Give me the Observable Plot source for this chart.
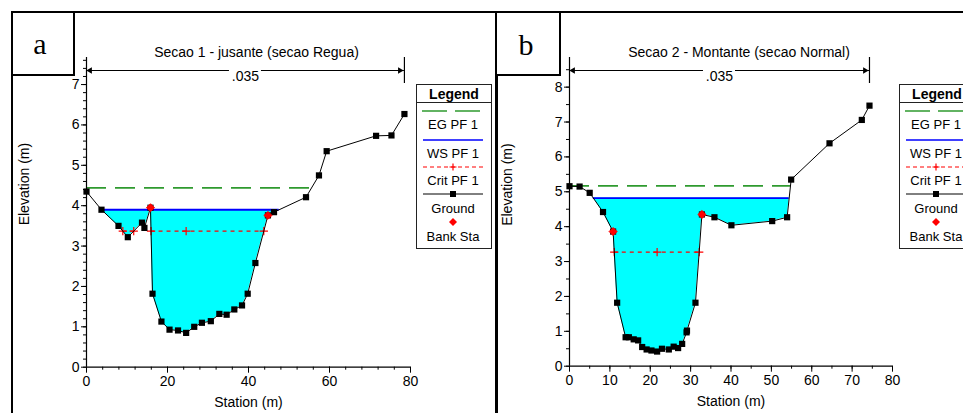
<!DOCTYPE html>
<html>
<head>
<meta charset="utf-8">
<script src="https://cdn.jsdelivr.net/npm/d3@7"></script>
<script src="https://cdn.jsdelivr.net/npm/@observablehq/plot@0.6"></script>
<style>
html,body{margin:0;padding:0;background:#fff;}
#wrap{position:relative;width:963px;height:413px;overflow:hidden;background:#fff;font-family:"Liberation Sans",Arial,sans-serif;}
.abs{position:absolute;}
.bar{position:absolute;background:#000;}
</style>
</head>
<body>
<div id="wrap"></div>
<script>
// ---------------- data ----------------
const titleA = "Secao 1 - jusante (secao Regua)";
const titleB = "Secao 2 - Montante (secao Normal)";
const panelLetters = ["a", "b"];
const manningN = ".035";
const xLabel = "Station (m)";
const yLabel = "Elevation (m)";
const legendLabels = ["EG PF 1", "WS PF 1", "Crit PF 1", "Ground", "Bank Sta"];

const stationA = [0, 3.7, 7.9, 10.2, 13.7, 14.3, 15.8, 16.3, 18.5, 20.5, 22.6, 24.6, 26.6, 28.5, 30.7, 32.8, 34.6, 36.5, 38.4, 39.8, 41.7, 44.8, 46.3, 54.2, 57.4, 59.3, 71.5, 75.3, 78.5];
const elevA    = [4.35, 3.9, 3.5, 3.22, 3.58, 3.45, 3.95, 1.82, 1.13, 0.93, 0.91, 0.85, 1.0, 1.1, 1.14, 1.32, 1.3, 1.43, 1.53, 1.82, 2.58, 3.76, 3.84, 4.21, 4.75, 5.35, 5.73, 5.74, 6.27];
const bankA = [15.8, 44.8];
const wsA = 3.9, egA = 4.44, critA = 3.37;

const stationB = [0, 2.5, 5.0, 8.3, 10.8, 11.8, 13.9, 14.7, 15.9, 17.0, 18.0, 19.1, 20.3, 21.7, 22.9, 24.6, 25.8, 26.9, 27.9, 29.0, 29.1, 31.2, 32.8, 35.9, 40.1, 50.2, 53.9, 54.9, 64.4, 72.4, 74.3];
const elevB    = [5.16, 5.15, 4.97, 4.42, 3.86, 1.82, 0.83, 0.83, 0.77, 0.74, 0.55, 0.48, 0.45, 0.42, 0.5, 0.48, 0.56, 0.52, 0.64, 0.97, 1.02, 1.82, 4.35, 4.27, 4.04, 4.16, 4.27, 5.35, 6.39, 7.06, 7.47];
const bankB = [10.8, 32.8];
const wsB = 4.82, egB = 5.17, critB = 3.27;

const xTicksA = [0, 20, 40, 60, 80];
const xTicksB = [0, 10, 20, 30, 40, 50, 60, 70, 80];
const yTicksA = [0, 1, 2, 3, 4, 5, 6, 7];
const yTicksB = [0, 1, 2, 3, 4, 5, 6, 7, 8];

// ---------------- helpers ----------------
const COL = {eg: "#2f9a2f", ws: "#0000ff", crit: "#ff0000", water: "#00ffff", ground: "#000", bank: "#ff0000"};
const FONT = "'Liberation Sans', Arial, sans-serif";

function crossings(st, el, level) {
  const xs = [];
  for (let i = 0; i < st.length - 1; i++) {
    const a = el[i] - level, b = el[i + 1] - level;
    if ((a > 0 && b <= 0) || (a <= 0 && b > 0)) {
      const t = a / (a - b);
      xs.push(st[i] + t * (st[i + 1] - st[i]));
    }
  }
  return xs;
}
function clipBelow(st, el, level) {
  const pts = [];
  for (let i = 0; i < st.length; i++) {
    pts.push({s: st[i], e: Math.min(el[i], level)});
    if (i < st.length - 1 && (el[i] - level) * (el[i + 1] - level) < 0) {
      const t = (level - el[i]) / (el[i + 1] - el[i]);
      pts.push({s: st[i] + t * (st[i + 1] - st[i]), e: level});
    }
  }
  return pts;
}

function panel(o) {
  const {st, el, bank, ws, eg, crit, title, xTicks, xMinor, yTicks, yMinor, ymax, width, ml, mr, mt, mb, titleDx, yLabDy} = o;
  const H = 413;
  const ppuY = (H - mt - mb) / ymax;
  const ppuX = (width - ml - mr) / 80;
  const n = st.length;
  const ground = st.map((s, i) => ({s, e: el[i]}));
  const water = clipBelow(st, el, ws);
  const wc = crossings(st, el, ws);
  const wsSeg = [{x1: wc[0], x2: wc[wc.length - 1], y: ws}];
  const ec = crossings(st, el, eg);
  const egSeg = [{x1: el[0] <= eg ? st[0] : ec[0], x2: el[n - 1] <= eg ? st[n - 1] : ec[ec.length - 1], y: eg}];
  const cc = crossings(st, el, crit);
  const critSegs = [];
  for (let i = 0; i + 1 < cc.length; i += 2) critSegs.push({x1: cc[i], x2: cc[i + 1], y: crit});
  const minIdx = d3.minIndex(el);
  const critMarks = critSegs.flatMap(d => [d.x1, d.x2]).concat([st[minIdx]]).map(s => ({s, e: crit}));
  const banks = bank.map(b => ground.find(g => g.s === b));
  const last = st[n - 1];
  const mid = last / 2;
  const gap = 16 / ppuX;
  const arrowSegs = [{x1: 0, x2: mid - gap}, {x1: mid + gap, x2: last}];

  return Plot.plot({
    width, height: H,
    marginLeft: ml, marginRight: mr, marginTop: mt, marginBottom: mb,
    style: {fontFamily: FONT, fontSize: "14px", color: "#000", background: "transparent", overflow: "visible"},
    x: {domain: [0, 80], axis: null},
    y: {domain: [0, ymax], axis: null},
    marks: [
      Plot.areaY(water, {x: "s", y1: "e", y2: () => ws, fill: COL.water}),
      Plot.ruleY(egSeg, {y: "y", x1: "x1", x2: "x2", stroke: COL.eg, strokeWidth: 1.6, strokeDasharray: "20,9"}),
      Plot.ruleY(wsSeg, {y: "y", x1: "x1", x2: "x2", stroke: COL.ws, strokeWidth: 1.8}),
      Plot.ruleY(critSegs, {y: "y", x1: "x1", x2: "x2", stroke: COL.crit, strokeWidth: 1.3, strokeDasharray: "4,4"}),
      Plot.dot(critMarks, {x: "s", y: "e", symbol: "plus", r: 2.8, stroke: COL.crit, strokeWidth: 1.2}),
      Plot.line(ground, {x: "s", y: "e", stroke: COL.ground, strokeWidth: 1}),
      Plot.dot(ground, {x: "s", y: "e", symbol: "square", r: 3.5, fill: COL.ground}),
      Plot.dot(banks, {x: "s", y: "e", symbol: "diamond2", r: 3.6, fill: COL.bank, stroke: COL.bank, strokeWidth: 1}),
      // axes
      Plot.ruleX([0], {stroke: "#000", strokeWidth: 1.2}),
      Plot.ruleY([0], {stroke: "#000", strokeWidth: 1.2}),
      Plot.axisX(xMinor, {tickSize: 3, tickFormat: () => "", label: null}),
      Plot.axisX(xTicks, {tickSize: 6, tickPadding: 3, fontSize: 14, tickFormat: d => String(d), label: null}),
      Plot.axisY(yMinor, {tickSize: 3, tickFormat: () => "", label: null}),
      Plot.axisY(yTicks, {tickSize: 5, tickPadding: 2, fontSize: 14, tickFormat: d => String(d), label: null}),
      // titles and labels
      Plot.text([title], {text: d => d, frameAnchor: "top", dy: -10, dx: titleDx, fontSize: 14}),
      Plot.text([yLabel], {text: d => d, frameAnchor: "left", dx: -62, dy: yLabDy, rotate: -90, fontSize: 14}),
      Plot.text([xLabel], {text: d => d, frameAnchor: "bottom", dy: 40, fontSize: 14}),
      // Manning n annotation with arrows
      Plot.text([manningN], {text: d => d, x: () => mid, frameAnchor: "top", dy: 14, fontSize: 14}),
      Plot.ruleY(arrowSegs, {y: () => ymax, x1: "x1", x2: "x2", dy: 13, stroke: "#000", strokeWidth: 1}),
      Plot.dot([0], {x: d => d, y: () => ymax, dy: 13, dx: 3.5, symbol: "triangle", rotate: -90, r: 2.4, fill: "#000"}),
      Plot.dot([last], {x: d => d, y: () => ymax, dy: 13, dx: -4.5, symbol: "triangle", rotate: 90, r: 2.4, fill: "#000"}),
      Plot.ruleX([last], {x: d => d, y1: () => ymax, y2: () => ymax - 26 / ppuY, stroke: "#000", strokeWidth: 1.2})
    ]
  });
}

const wrap = document.getElementById("wrap");

const svgA = panel({
  st: stationA, el: elevA, bank: bankA, ws: wsA, eg: egA, crit: critA, title: titleA,
  xTicks: xTicksA, xMinor: d3.range(0, 80.01, 4), yTicks: yTicksA, yMinor: d3.range(0, 7.61, 0.2),
  ymax: 7.67, width: 497, ml: 86, mr: 87, mt: 57, mb: 46.3, titleDx: 8, yLabDy: 13
});
const svgB = panel({
  st: stationB, el: elevB, bank: bankB, ws: wsB, eg: egB, crit: critB, title: titleB,
  xTicks: xTicksB, xMinor: d3.range(0, 80.01, 5), yTicks: yTicksB, yMinor: d3.range(0, 8.51, 0.5),
  ymax: 8.85, width: 466, ml: 72, mr: 71, mt: 57, mb: 47.3, titleDx: 8, yLabDy: 14
});
for (const [svg, left] of [[svgA, 0], [svgB, 497]]) {
  svg.style.position = "absolute";
  svg.style.left = left + "px";
  svg.style.top = "0px";
  svg.style.maxWidth = "none";
  wrap.appendChild(svg);
}

// ---------------- legends ----------------
function legend(left) {
  const w = 76, h = 165;
  const cx = 37;
  const rows = [27, 56, 83, 110, 138];
  const texts = [40, 69, 96, 124, 152];
  let s = `<svg class="abs" style="left:${left}px;top:84px;overflow:visible" width="${w}" height="${h}" font-family="${FONT.replace(/'/g, "")}">`;
  s += `<rect x="0.5" y="0.5" width="${w - 1}" height="${h - 1}" fill="#fff" stroke="#222" stroke-width="1"/>`;
  s += `<text x="${cx + 1}" y="9.5" dy="0.36em" text-anchor="middle" font-weight="bold" font-size="14">Legend</text>`;
  s += `<line x1="0" x2="${w}" y1="18.5" y2="18.5" stroke="#222"/>`;
  s += `<line x1="6" x2="66" y1="${rows[0]}" y2="${rows[0]}" stroke="${COL.eg}" stroke-width="1.4" stroke-dasharray="25,8"/>`;
  s += `<line x1="7" x2="67" y1="${rows[1]}" y2="${rows[1]}" stroke="${COL.ws}" stroke-width="1.6"/>`;
  s += `<line x1="7" x2="67" y1="${rows[2]}" y2="${rows[2]}" stroke="${COL.crit}" stroke-width="1.2" stroke-dasharray="4,3"/>`;
  s += `<path d="M${cx - 3.5},${rows[2]}h7M${cx},${rows[2] - 3.5}v7" stroke="${COL.crit}" stroke-width="1.2"/>`;
  s += `<line x1="7" x2="67" y1="${rows[3]}" y2="${rows[3]}" stroke="#000" stroke-width="1"/>`;
  s += `<rect x="${cx - 3}" y="${rows[3] - 3}" width="6" height="6" fill="#000"/>`;
  s += `<path d="M${cx},${rows[4] - 4}l4,4l-4,4l-4,-4z" fill="${COL.bank}"/>`;
  legendLabels.forEach((t, i) => {
    s += `<text x="${cx}" y="${texts[i]}" dy="0.36em" text-anchor="middle" font-size="13">${t}</text>`;
  });
  s += `</svg>`;
  return s;
}
wrap.insertAdjacentHTML("beforeend", legend(416));
wrap.insertAdjacentHTML("beforeend", legend(899));

// ---------------- frame and panel letters ----------------
const frame = [
  {l: 11, t: 11, w: 952, h: 2},
  {l: 11, t: 11, w: 2, h: 402},
  {l: 495, t: 11, w: 3, h: 402}
];
frame.forEach(f => wrap.insertAdjacentHTML("beforeend", `<div class="bar" style="left:${f.l}px;top:${f.t}px;width:${f.w}px;height:${f.h}px"></div>`));

const boxes = [{l: 11, w: 64, tx: 29}, {l: 495, w: 66, tx: 31}];
boxes.forEach((b, i) => {
  wrap.insertAdjacentHTML("beforeend",
    `<svg class="abs" style="left:${b.l}px;top:11px" width="${b.w}" height="65">
      <rect x="1" y="1" width="${b.w - 2}" height="63" fill="#fff" stroke="#000" stroke-width="2"/>
      <text x="${b.tx}" y="${i === 0 ? 42.5 : 44}" text-anchor="middle" font-family="Liberation Serif, Times New Roman, serif" font-size="30">${panelLetters[i]}</text>
    </svg>`);
});
</script>
</body>
</html>
